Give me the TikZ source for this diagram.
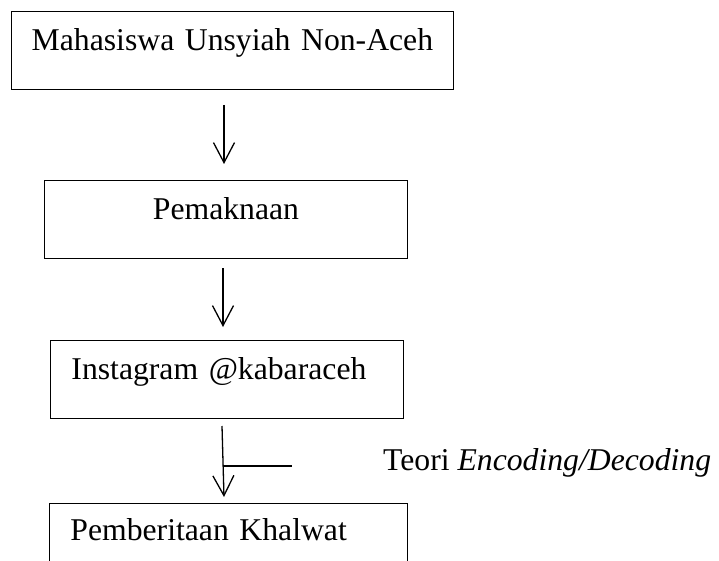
\documentclass[tikz,border=0pt]{standalone}
\usepackage{fontspec}
\setmainfont{Liberation Serif}
\usetikzlibrary{arrows.meta}
\begin{document}
\begin{tikzpicture}[x=1pt,y=-1pt,
  box/.style={draw, line width=0.9pt, rectangle, anchor=north west, inner ysep=0pt,
    text height=39pt, text depth=39pt, font=\fontsize{31.7}{38}\selectfont},
  flow/.style={line width=1.3pt, -{Straight Barb[length=20pt,width=21pt,line width=1.3pt]}},
  plain/.style={line width=1.3pt}]
\useasboundingbox (0,0) rectangle (719,561);
\clip (0,0) rectangle (719,561);
\node[box, minimum width=442pt, text width=420pt, inner xsep=11pt, align=center] (b1) at (11,11) {Mahasiswa Unsyiah Non-Aceh};
\node[box, minimum width=363pt, text width=341pt, inner xsep=11pt, align=center] (b2) at (44,180) {Pemaknaan};
\node[box, minimum width=353pt, text width=311pt, inner xsep=21pt, align=left] (b3) at (50,340) {Instagram @kabaraceh};
\node[box, minimum width=358pt, text width=316pt, inner xsep=21pt, align=left, text height=37pt, text depth=60pt] (b4) at (49,503) {Pemberitaan Khalwat};
\node[anchor=base west, inner sep=0pt, font=\fontsize{31.7}{38}\selectfont] (teori) at (383,470) {Teori \textit{Encoding/Decoding}};
\coordinate (a1s) at (224,105);
\coordinate (a1e) at (224,164);
\coordinate (a2s) at (223,268);
\coordinate (a2e) at (223,327);
\coordinate (a3s) at (222,426);
\coordinate (a3e) at (224,497);
\coordinate (hs) at (224,466);
\coordinate (he) at (292,466);
\draw[flow] (a1s) -- (a1e);
\draw[flow] (a2s) -- (a2e);
\draw[flow] (a3s) -- (a3e);
\draw[plain] (hs) -- (he);
\end{tikzpicture}
\end{document}
